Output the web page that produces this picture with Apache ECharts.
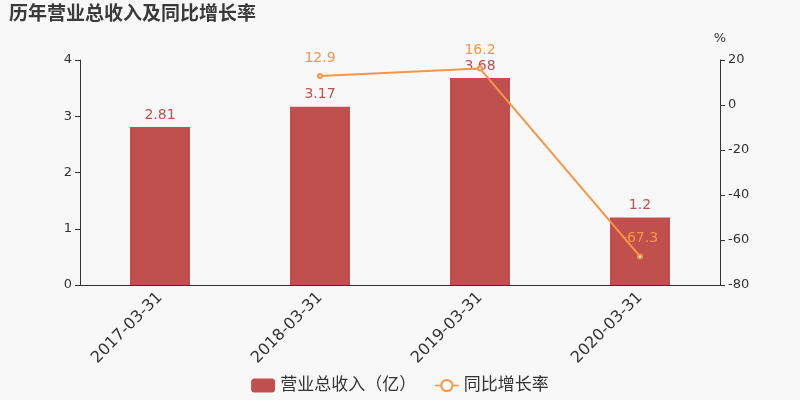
<!DOCTYPE html>
<html><head><meta charset="utf-8">
<script src="https://cdn.jsdelivr.net/npm/echarts@6/dist/echarts.min.js"></script>
<style>html,body{margin:0;padding:0;background:#f8f8f8}#c{width:800px;height:400px}</style>
</head><body><div id="c"></div>
<script>
const categories = ['2017-03-31','2018-03-31','2019-03-31','2020-03-31'];
const revenue = [2.81, 3.17, 3.68, 1.2];
const growth = [null, 12.9, 16.2, -67.3];
const seriesNames = ['营业总收入（亿）','同比增长率'];
const chart = echarts.init(document.getElementById('c'));
chart.setOption({
  backgroundColor:'#f8f8f8',
  animation:false,
  textStyle:{fontFamily:'DejaVu Sans, Noto Sans CJK SC, sans-serif'},
  title:{text:'历年营业总收入及同比增长率',left:4,top:1,textStyle:{fontSize:19,fontWeight:'bold',color:'#3a3a3a',fontFamily:'DejaVu Sans, Noto Sans CJK SC, sans-serif'}},
  legend:{bottom:1,left:'center',itemWidth:24,itemHeight:14,itemGap:18,textStyle:{fontSize:17,color:'#333'},
    data:[{name:seriesNames[0],icon:'roundRect'},{name:seriesNames[1],lineStyle:{width:1.5}}]},
  grid:{left:80,right:80,top:60,bottom:115},
  xAxis:{type:'category',data:categories,axisLine:{lineStyle:{color:'#333'}},axisTick:{lineStyle:{color:'#333'}},
    axisLabel:{rotate:45,fontSize:16,color:'#333',margin:10}},
  yAxis:[
    {type:'value',min:0,max:4,interval:1,splitLine:{show:false},axisLine:{show:true,lineStyle:{color:'#333'}},axisTick:{show:true},axisLabel:{fontSize:13,color:'#333'}},
    {type:'value',name:'%',nameTextStyle:{fontSize:13,color:'#333'},min:-80,max:20,interval:20,splitLine:{show:false},axisLine:{show:true,lineStyle:{color:'#333'}},axisTick:{show:true},axisLabel:{fontSize:13,color:'#333'}}
  ],
  series:[
    {name:seriesNames[0],type:'bar',data:revenue,barWidth:60,itemStyle:{color:'#c0504d'},
      label:{show:true,position:'top',fontSize:14,color:'#c0504d'}},
    {name:seriesNames[1],type:'line',yAxisIndex:1,data:growth,symbol:'emptyCircle',symbolSize:4,
      itemStyle:{color:'#f79646'},lineStyle:{color:'#f79646',width:2},
      label:{show:true,position:'top',fontSize:14,color:'#f79646',distance:8}}
  ]
});
</script></body></html>
